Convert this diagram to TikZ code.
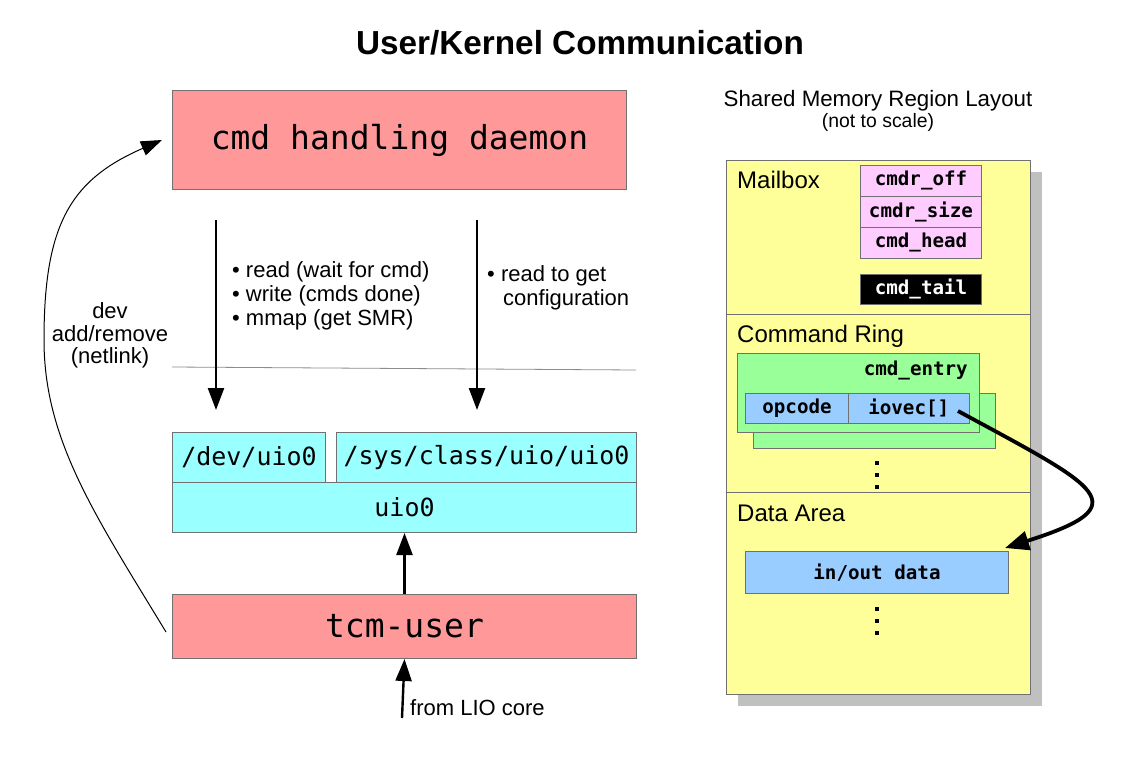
\documentclass[tikz,border=0pt]{standalone}
\usepackage{fontspec}
\setmainfont{Liberation Sans}
\newfontfamily\monof{DejaVu Sans Mono}
\usetikzlibrary{arrows.meta}
\definecolor{salmon}{HTML}{FF9999}
\definecolor{cyanbox}{HTML}{99FFFF}
\definecolor{yellowbox}{HTML}{FFFF99}
\definecolor{pinkbox}{HTML}{FFCCFF}
\definecolor{greenbox}{HTML}{99FF99}
\definecolor{bluebox}{HTML}{99CCFF}
\definecolor{shadowgray}{HTML}{C0C0C0}
\definecolor{bordergray}{HTML}{707070}
\begin{document}
\begin{tikzpicture}[x=1pt,y=-1pt,
  bx/.style={draw=bordergray, line width=1pt, inner sep=0pt, anchor=north west},
  bigmono/.style={font=\monof\fontsize{33}{40}\selectfont},
  midmono/.style={font=\monof\fontsize{25}{30}\selectfont},
  memmono/.style={font=\monof\bfseries\fontsize{19.2}{23}\selectfont},
  body/.style={inner sep=0pt, font=\fontsize{22}{26}\selectfont},
  section/.style={inner sep=0pt, anchor=base west, font=\fontsize{24}{28}\selectfont},
  downarrow/.style={line width=2.4pt, -{Triangle[length=22pt,width=16pt]}},
  thinarrow/.style={line width=1pt, -{Triangle[length=21pt,width=15pt]}},
  thickarrow/.style={line width=3.8pt, -{Triangle[length=24pt,width=19pt]}},
  dotsq/.style={fill=black}]
\useasboundingbox (0,0) rectangle (1140,776);
\fill[white] (0,0) rectangle (1140,776);

% title
\node[inner sep=0pt, anchor=base, font=\bfseries\fontsize{33.3}{38}\selectfont] (title) at (580,55) {User/Kernel Communication};

% left side
\node[bx, fill=salmon, minimum width=454pt, minimum height=99pt, bigmono] (daemon) at (172,90) {cmd handling daemon};
\node[bx, fill=cyanbox, minimum width=153pt, minimum height=50pt, midmono] (dev) at (172,432) {/dev/uio0};
\node[bx, fill=cyanbox, minimum width=300pt, minimum height=50pt, midmono] (sys) at (336,432) {/sys/class/uio/uio0};
\node[bx, fill=cyanbox, minimum width=464pt, minimum height=50pt, midmono] (uio) at (172,482) {uio0};
\node[bx, fill=salmon, minimum width=464pt, minimum height=64pt, bigmono] (tcm) at (172,594) {tcm-user};

\draw[bordergray!80, line width=0.8pt] (172,367) -- (636,370);

\coordinate (d1s) at (216,220);
\coordinate (d1e) at (216,410);
\coordinate (d2s) at (477,220);
\coordinate (d2e) at (477,410);
\draw[downarrow] (d1s) -- (d1e);
\draw[downarrow] (d2s) -- (d2e);

\node[body, anchor=base west] (b1) at (232,277) {• read (wait for cmd)};
\node[body, anchor=base west] (b2) at (232,301) {• write (cmds done)};
\node[body, anchor=base west] (b3) at (232,325) {• mmap (get SMR)};
\node[body, anchor=base west] (c1) at (487,281) {• read to get};
\node[body, anchor=base west] (c2) at (503,305) {configuration};

\draw[downarrow] (tcm.north) -- (uio.south);
\coordinate (lio) at (402,718);
\draw[downarrow] (lio) -- (tcm.south);
\node[body, anchor=base west] (liotext) at (410,715) {from LIO core};

\coordinate (nlstart) at (166,632);
\coordinate (nlend) at (162,140);
\draw[thinarrow] (nlstart) .. controls (95,515) and (44,440) .. (44,340)
   .. controls (44,225) and (70,180) .. (nlend);
\node[body, anchor=base] (n1) at (110,318) {dev};
\node[body, anchor=base] (n2) at (110,341) {add/remove};
\node[body, anchor=base] (n3) at (110,363) {(netlink)};

% right side
\node[inner sep=0pt, anchor=base, font=\fontsize{22.3}{26}\selectfont] (smr) at (878,106) {Shared Memory Region Layout};
\node[inner sep=0pt, anchor=base, font=\fontsize{19.4}{23}\selectfont] (nts) at (878,127) {(not to scale)};

\fill[shadowgray] (738,172) rectangle (1042,706);
\node[bx, fill=yellowbox, minimum width=304pt, minimum height=534pt] (mem) at (726,160) {};
\draw[bordergray, line width=1pt] (726,314) -- (1030,314);
\draw[bordergray, line width=1pt] (726,492.5) -- (1030,492.5);

\node[section] (mailbox) at (737,188) {Mailbox};
\node[bx, fill=pinkbox, minimum width=121pt, minimum height=31pt, memmono] (off) at (860,164.5) {cmdr\_off};
\node[bx, fill=pinkbox, minimum width=121pt, minimum height=31pt, memmono] (size) at (860,195.5) {cmdr\_size};
\node[bx, fill=pinkbox, minimum width=121pt, minimum height=31pt, memmono] (head) at (860,226.5) {cmd\_head};
\node[bx, fill=black, text=white, minimum width=121pt, minimum height=30.5pt, memmono] (tail) at (860,273.5) {cmd\_tail};

\node[section] (ring) at (737,342) {Command Ring};
\node[bx, fill=greenbox, minimum width=241.5pt, minimum height=55pt] (entry2) at (753,392.5) {};
\node[bx, fill=greenbox, minimum width=241.5pt, minimum height=79pt] (entry1) at (737,352.5) {};
\node[inner sep=0pt, anchor=east, memmono] (entrylbl) at (968,370) {cmd\_entry};
\node[bx, fill=bluebox, minimum width=103pt, minimum height=30pt, memmono] (opcode) at (745,392.5) {opcode};
\node[bx, fill=bluebox, minimum width=120.5pt, minimum height=30pt, memmono] (iovec) at (848,392.5) {iovec[]};

\fill[dotsq] (875,461) rectangle (879,465);
\fill[dotsq] (875,473) rectangle (879,477);
\fill[dotsq] (875,485) rectangle (879,489);

\node[section] (data) at (737,521) {Data Area};
\node[bx, fill=bluebox, minimum width=263pt, minimum height=42pt, memmono] (inout) at (745,551) {in/out data};

\fill[dotsq] (875,607) rectangle (879,611);
\fill[dotsq] (875,619) rectangle (879,623);
\fill[dotsq] (875,631) rectangle (879,635);

\coordinate (ptrstart) at (958,411);
\coordinate (ptrend) at (1005,548);
\draw[thickarrow] (ptrstart) .. controls (1100,488) and (1140,505) .. (ptrend);
\end{tikzpicture}
\end{document}
